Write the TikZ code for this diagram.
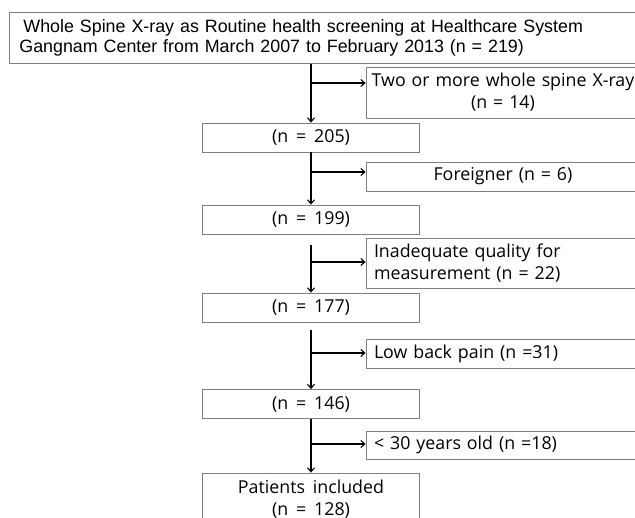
\documentclass[tikz,border=0pt]{standalone}
\usepackage{fontspec}
\setmainfont{Open Sans}[WordSpace=1.7]
\newfontfamily\arialfont{Liberation Sans}
\usetikzlibrary{arrows.meta}

\begin{document}
\begin{tikzpicture}[x=1pt,y=-1pt,
    box/.style={draw=black!50,line width=0.8pt,inner sep=0pt,font=\fontsize{17.8}{22}\selectfont},
    leftbox/.style={box,minimum width=217pt,minimum height=29pt},
    sidebox/.style={box,minimum width=274pt,minimum height=29pt,inner xsep=8pt,text width=258pt},
    flow/.style={line width=1.1pt,-{Straight Barb[length=4pt,width=7pt]}}]
    \clip (0,0) rectangle (635,518);
    \useasboundingbox (0,0) rectangle (635,518);
    % main column
    \node[box,anchor=north west,minimum width=640pt,minimum height=51pt,inner xsep=8pt,text width=620pt,align=left,font=\arialfont\fontsize{17.85}{20}\selectfont] (screen) at (9,12)
        {\hspace*{4pt}Whole Spine X-ray as Routine health screening at Healthcare System\\Gangnam Center from March 2007 to February 2013 (n = 219)};
    \node[leftbox] (n205) at (311,137.5) {(n = 205)};
    \node[leftbox] (n199) at (311,219.5) {(n = 199)};
    \node[leftbox] (n177) at (311,307.5) {(n = 177)};
    \node[leftbox] (n146) at (311,404) {(n = 146)};
    \node[leftbox,minimum height=52pt,align=center] (incl) at (311,499) {Patients included\\(n = 128)};
    % excluded
    \node[sidebox,minimum height=51pt,inner xsep=0pt,text width=274pt,align=center] (twice) at (503,92.5) {Two or more whole spine X-ray\\(n = 14)};
    \node[sidebox,align=center] (foreign) at (503,176.5) {Foreigner (n = 6)};
    \node[sidebox,minimum height=50pt,align=left] (quality) at (503,263) {Inadequate quality for\\measurement (n = 22)};
    \node[sidebox,align=left] (pain) at (503,353.5) {Low back pain (n =31)};
    \node[sidebox,minimum height=28pt,align=left] (young) at (503,445) {< 30 years old (n =18)};
    % connectors
    \draw[flow] (n205.north |- screen.south) -- (n205.north);
    \draw[flow] (n205.south) -- (n199.north);
    \draw[flow] ([yshift=-11pt]n199.south) -- (n177.north);
    \draw[flow] ([yshift=-8pt]n177.south) -- (n146.north);
    \draw[flow] (n146.south) -- (incl.north);
    \coordinate (b1) at (311,83);
    \coordinate (b2) at (311,172);
    \coordinate (b3) at (311,262);
    \coordinate (b4) at (311,353);
    \coordinate (b5) at (311,444);
    \draw[flow] (b1) -- (b1 -| twice.west);
    \draw[flow] (b2) -- (b2 -| foreign.west);
    \draw[flow] (b3) -- (b3 -| quality.west);
    \draw[flow] (b4) -- (b4 -| pain.west);
    \draw[flow] (b5) -- (b5 -| young.west);
\end{tikzpicture}
\end{document}
